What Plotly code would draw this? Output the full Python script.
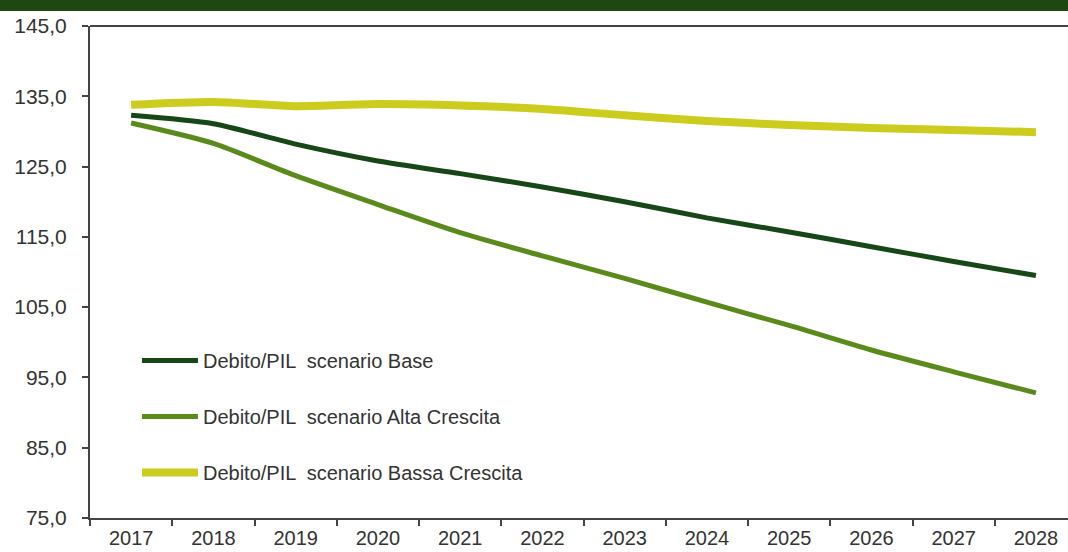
import plotly.graph_objects as go

# Anni di proiezione
anni = ["2017", "2018", "2019", "2020", "2021", "2022",
        "2023", "2024", "2025", "2026", "2027", "2028"]

# Rapporto Debito/PIL (%) per scenario
debito_base = [132.3, 131.1, 128.2, 125.8, 124.0, 122.1,
               120.0, 117.7, 115.7, 113.6, 111.5, 109.5]
debito_alta = [131.2, 128.3, 123.7, 119.6, 115.6, 112.3,
               109.1, 105.7, 102.4, 98.9, 95.8, 92.8]
debito_bassa = [133.8, 134.2, 133.6, 133.9, 133.7, 133.2,
                132.3, 131.5, 130.9, 130.5, 130.2, 129.9]

y_ticks = [75, 85, 95, 105, 115, 125, 135, 145]
y_tick_text = ["75,0", "85,0", "95,0", "105,0", "115,0", "125,0", "135,0", "145,0"]

serie = [
    ("Debito/PIL  scenario Base", debito_base, "#174716", 5),
    ("Debito/PIL  scenario Alta Crescita", debito_alta, "#5b8a1c", 5),
    ("Debito/PIL  scenario Bassa Crescita", debito_bassa, "#cccc1e", 8),
]

fig = go.Figure()
for i, (nome, valori, colore, spessore) in enumerate(serie):
    fig.add_trace(go.Scatter(
        x=anni, y=valori, name=nome, mode="lines",
        legendgroup=str(i),
        line=dict(color=colore, width=spessore, shape="spline", smoothing=0.7),
    ))

font_fam = "Liberation Sans, Arial, sans-serif"

fig.update_layout(
    width=1068, height=552,
    margin=dict(l=90, r=0, t=26, b=34),
    paper_bgcolor="white",
    plot_bgcolor="white",
    font=dict(family=font_fam, size=18, color="#333333"),
    showlegend=True,
    legend=dict(
        x=0.048, y=0.36, xanchor="left", yanchor="top",
        bgcolor="rgba(0,0,0,0)",
        font=dict(family=font_fam, size=20, color="#333333"),
        traceorder="grouped", tracegroupgap=27,
        itemwidth=56,
    ),
    xaxis=dict(
        type="category",
        range=[-0.5, 11.39],
        automargin=False,
        showgrid=False,
        showline=True, linecolor="#444444", linewidth=2,
        ticks="outside", tickson="boundaries", ticklen=6,
        tickcolor="#444444", tickwidth=1.5,
        tickfont=dict(family=font_fam, size=20, color="#333333"),
        ticklabelstandoff=1,
        mirror=False,
    ),
    yaxis=dict(
        range=[75, 145],
        automargin=False,
        tickvals=y_ticks, ticktext=y_tick_text,
        showgrid=False, zeroline=False,
        showline=True, linecolor="#444444", linewidth=2,
        ticks="outside", ticklen=6, tickcolor="#444444", tickwidth=1.5,
        tickfont=dict(family=font_fam, size=21, color="#333333"),
        ticklabelstandoff=11,
    ),
    shapes=[
        # cornice superiore dell'area del grafico
        dict(type="line", xref="paper", yref="paper", x0=0, x1=1, y0=1, y1=1,
             line=dict(color="#444444", width=2)),
        # fascia verde in testata
        dict(type="rect", xref="paper", yref="paper", x0=-0.1, x1=1.01,
             y0=1 + 15 / 492, y1=1 + 30 / 492,
             fillcolor="#1f4712", line=dict(width=0), layer="above"),
    ],
)

fig.write_html("out.html")
